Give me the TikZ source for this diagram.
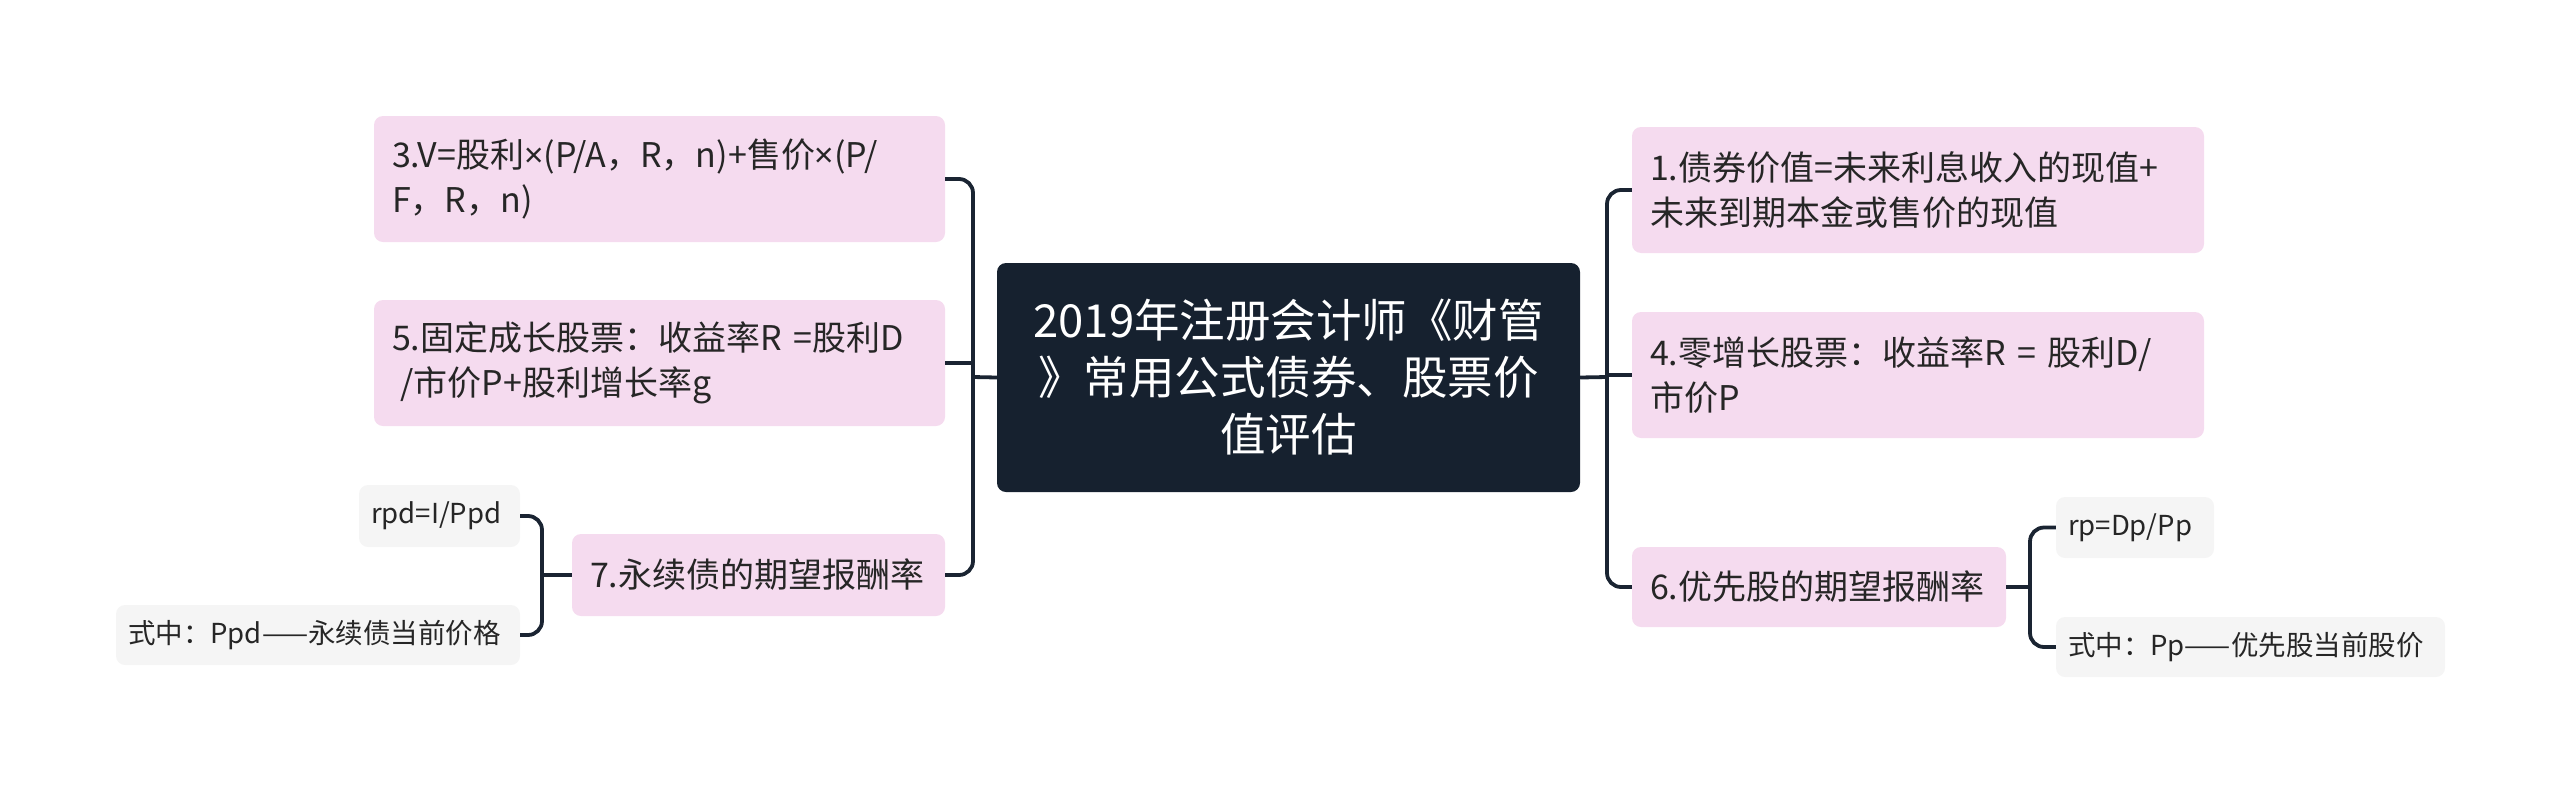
\documentclass[tikz,border=0pt]{standalone}
\usepackage{fontspec}
\setmainfont{Noto Sans CJK SC}
\newfontfamily\latinfont{Noto Sans}
\newcommand{\mtimes}{{\latinfont ×}}
\definecolor{rootfill}{HTML}{16212F}
\definecolor{pinkfill}{HTML}{F5DBEF}
\definecolor{leaffill}{HTML}{F5F5F5}
\definecolor{linecol}{HTML}{1A2432}
\definecolor{txt}{HTML}{262626}
\tikzset{
  rootbox/.style={draw=none, fill=rootfill, rounded corners=9pt, text=white, align=center,
    inner xsep=12pt, inner ysep=0pt, font=\fontsize{45.5}{57}\selectfont},
  branchbox/.style={draw=none, fill=pinkfill, rounded corners=9pt, text=txt, align=left,
    inner xsep=18pt, inner ysep=0pt, font=\fontsize{34}{45}\selectfont},
  leafbox/.style={draw=none, fill=leaffill, rounded corners=9pt, text=txt, align=left,
    inner xsep=12pt, inner ysep=0pt, font=\fontsize{27.5}{36}\selectfont},
  conn/.style={draw=linecol, line width=3.8pt, rounded corners=14pt},
}
\begin{document}
\begin{tikzpicture}[x=1pt,y=-1pt]
\useasboundingbox (0,0) rectangle (2560,793);
% root
\node[rootbox, text width=559pt, minimum height=229pt] (root) at (1288.5,377.5)
  {2019年注册会计师《财管\\》常用公式债券、股票价\\值评估};
% left branches
\node[branchbox, text width=535pt, minimum height=126pt] (n3) at (659.5,179)
  {3.V=股利\mtimes(P/A，R，n)+售价\mtimes(P/\\F，R，n)};
\node[branchbox, text width=535pt, minimum height=126pt] (n5) at (659.5,363)
  {5.固定成长股票：收益率R =股利D\\\hspace*{0.25em}/市价P+股利增长率g};
\node[branchbox, text width=337pt, minimum height=82pt] (n7) at (758.5,575)
  {7.永续债的期望报酬率};
\node[leafbox, text width=137pt, minimum height=62pt] (rpd) at (439.5,516)
  {\mbox{rpd=I/Ppd}};
\node[leafbox, text width=380pt, minimum height=60pt] (ppd) at (318,635)
  {\mbox{式中：Ppd——永续债当前价格}};
% right branches
\node[branchbox, text width=536pt, minimum height=126pt] (n1) at (1918,190)
  {1.债券价值=未来利息收入的现值+\\未来到期本金或售价的现值};
\node[branchbox, text width=536pt, minimum height=126pt] (n4) at (1918,375)
  {4.零增长股票：收益率R = 股利D/\\市价P};
\node[branchbox, text width=338pt, minimum height=80pt] (n6) at (1819,587)
  {6.优先股的期望报酬率};
\node[leafbox, text width=134pt, minimum height=61pt] (rp) at (2135,527.5)
  {\mbox{rp=Dp/Pp}};
\node[leafbox, text width=365pt, minimum height=60pt] (pp) at (2250.5,647)
  {\mbox{式中：Pp——优先股当前股价}};
% trunk coordinates
\coordinate (lt) at (973,377);
\coordinate (rt) at (1607,377);
\coordinate (st7) at (542,575);
\coordinate (st6) at (2030,587);
% left connectors
\draw[conn] (root.west) -- (lt);
\draw[conn] (n3.east) -- (n3.east -| lt) -- (n7.east -| lt) -- (n7.east);
\draw[conn] (n5.east) -- (n5.east -| lt);
\draw[conn] (n7.west) -- (st7);
\draw[conn] (rpd.east) -- (rpd.east -| st7) -- (ppd.east -| st7) -- (ppd.east);
% right connectors
\draw[conn] (root.east) -- (rt);
\draw[conn] (n1.west) -- (n1.west -| rt) -- (n6.west -| rt) -- (n6.west);
\draw[conn] (n4.west) -- (n4.west -| rt);
\draw[conn] (n6.east) -- (st6);
\draw[conn] (rp.west) -- (rp.west -| st6) -- (pp.west -| st6) -- (pp.west);
\end{tikzpicture}
\end{document}
